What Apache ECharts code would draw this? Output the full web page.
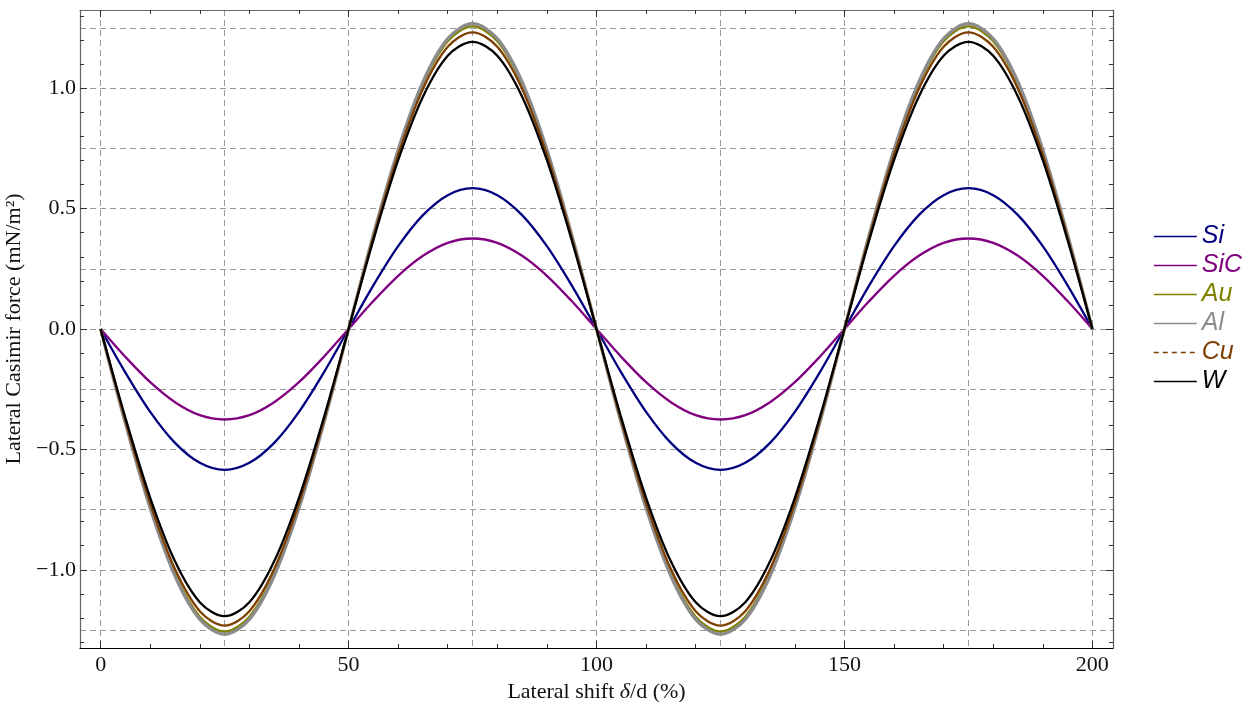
<!DOCTYPE html>
<html>
<head>
<meta charset="utf-8">
<script src="https://cdn.jsdelivr.net/npm/echarts@6/dist/echarts.min.js"></script>
<style>html,body{margin:0;padding:0;background:#fff}#c{width:1244px;height:702px}</style>
</head>
<body>
<div id="c"></div>
<script>
// x positions: lateral shift δ/d (%)
const shift = [0,5,10,15,20,25,30,35,40,45,50,55,60,65,70,75,80,85,90,95,100,
  105,110,115,120,125,130,135,140,145,150,155,160,165,170,175,180,185,190,195,200];
const si  = [0,-0.181,-0.344,-0.473,-0.556,-0.585,-0.556,-0.473,-0.344,-0.181,0,0.181,0.344,0.473,0.556,0.585,0.556,0.473,0.344,0.181,0,
  -0.181,-0.344,-0.473,-0.556,-0.585,-0.556,-0.473,-0.344,-0.181,0,0.181,0.344,0.473,0.556,0.585,0.556,0.473,0.344,0.181,0];
const sic = [0,-0.116,-0.221,-0.304,-0.358,-0.376,-0.358,-0.304,-0.221,-0.116,0,0.116,0.221,0.304,0.358,0.376,0.358,0.304,0.221,0.116,0,
  -0.116,-0.221,-0.304,-0.358,-0.376,-0.358,-0.304,-0.221,-0.116,0,0.116,0.221,0.304,0.358,0.376,0.358,0.304,0.221,0.116,0];
const au  = [0,-0.388,-0.739,-1.017,-1.195,-1.257,-1.195,-1.017,-0.739,-0.388,0,0.388,0.739,1.017,1.195,1.257,1.195,1.017,0.739,0.388,0,
  -0.388,-0.739,-1.017,-1.195,-1.257,-1.195,-1.017,-0.739,-0.388,0,0.388,0.739,1.017,1.195,1.257,1.195,1.017,0.739,0.388,0];
const al  = [0,-0.392,-0.745,-1.026,-1.206,-1.268,-1.206,-1.026,-0.745,-0.392,0,0.392,0.745,1.026,1.206,1.268,1.206,1.026,0.745,0.392,0,
  -0.392,-0.745,-1.026,-1.206,-1.268,-1.206,-1.026,-0.745,-0.392,0,0.392,0.745,1.026,1.206,1.268,1.206,1.026,0.745,0.392,0];
const cu  = [0,-0.381,-0.724,-0.997,-1.172,-1.232,-1.172,-0.997,-0.724,-0.381,0,0.381,0.724,0.997,1.172,1.232,1.172,0.997,0.724,0.381,0,
  -0.381,-0.724,-0.997,-1.172,-1.232,-1.172,-0.997,-0.724,-0.381,0,0.381,0.724,0.997,1.172,1.232,1.172,0.997,0.724,0.381,0];
const w   = [0,-0.369,-0.701,-0.965,-1.135,-1.193,-1.135,-0.965,-0.701,-0.369,0,0.369,0.701,0.965,1.135,1.193,1.135,0.965,0.701,0.369,0,
  -0.369,-0.701,-0.965,-1.135,-1.193,-1.135,-0.965,-0.701,-0.369,0,0.369,0.701,0.965,1.135,1.193,1.135,0.965,0.701,0.369,0];

const seriesNames = ['Si','SiC','Au','Al','Cu','W'];
const xLabelTicks = [0,50,100,150,200];
const xMinorTicks = [10,20,30,40,60,70,80,90,110,120,130,140,160,170,180,190];
const xGridTicks = [0,25,50,75,100,125,150,175,200];
const yLabelTicks = [-1,-0.5,0,0.5,1];
const yMinorTicks = [-1.3,-1.2,-1.1,-0.9,-0.8,-0.7,-0.6,-0.4,-0.3,-0.2,-0.1,0.1,0.2,0.3,0.4,0.6,0.7,0.8,0.9,1.1,1.2,1.3];
const yGridTicks = [-1.25,-1,-0.75,-0.5,-0.25,0,0.25,0.5,0.75,1,1.25];

const X_MIN = -4.16, X_MAX = 204.16, Y_MIN = -1.325, Y_MAX = 1.325;
const colors = {Si:'#00007f', SiC:'#800080', Au:'#808000', Al:'#8c8c8c', Cu:'#7f3f00', W:'#000000'};
const dataSets = {Si:si, SiC:sic, Au:au, Al:al, Cu:cu, W:w};

const serif = 'Liberation Serif';
const gridDash = {show:true, lineStyle:{color:'#999', width:1, type:[6,4]}};

function tickAxis(pos, min, max, ticks, len, lineShow, lineColor, extra) {
  return Object.assign({
    type:'value', position:pos, min:min, max:max,
    axisLine:{show:lineShow, onZero:false, lineStyle:{color:lineColor, width:1.2}},
    axisTick:{show:true, inside:true, length:len, customValues:ticks, lineStyle:{color:'#333', width:1}},
    axisLabel:{show:false},
    splitLine:{show:false}
  }, extra || {});
}

const fmtY = v => (v < 0 ? '\u2212' : '') + Math.abs(v).toFixed(1);

const option = {
  animation:false,
  grid:{left:80, right:131, top:10, bottom:54, containLabel:false, outerBoundsMode:'none'},
  legend:{
    orient:'vertical', left:1148, top:219, itemWidth:43, itemHeight:14, itemGap:4,
    textStyle:{fontFamily:'Liberation Sans', fontStyle:'italic', fontSize:25},
    itemStyle:{opacity:0},
    data: seriesNames.map(n => ({
      name:n, textStyle:{color:colors[n]},
      itemStyle:{opacity:0},
      lineStyle: n === 'Cu' ? {type:[5,4], width:1.6} : {width:1.6}
    }))
  },
  xAxis:[
    tickAxis('bottom', X_MIN, X_MAX, xLabelTicks, 7, true, '#000', {
      axisLabel:{show:true, customValues:xLabelTicks, fontFamily:serif, fontSize:22, color:'#111', margin:6},
      name:'{n|Lateral shift }{i|\u03b4}{n|/d (%)}', nameLocation:'middle', nameGap:20,
      nameTextStyle:{fontFamily:serif, fontSize:22, color:'#111',
        rich:{n:{fontFamily:serif, fontSize:22, color:'#111'}, i:{fontFamily:serif, fontSize:22, fontStyle:'italic', color:'#111'}}}
    }),
    tickAxis('bottom', X_MIN, X_MAX, xMinorTicks, 4, false, '#000'),
    {type:'value', position:'bottom', min:X_MIN, max:X_MAX,
      axisLine:{show:false, onZero:false}, axisTick:{show:false, customValues:xGridTicks},
      axisLabel:{show:false}, splitLine:gridDash},
    tickAxis('top', X_MIN, X_MAX, xLabelTicks, 7, true, '#666'),
    tickAxis('top', X_MIN, X_MAX, xMinorTicks, 4, false, '#666')
  ],
  yAxis:[
    tickAxis('left', Y_MIN, Y_MAX, yLabelTicks, 7, true, '#666', {
      axisLabel:{show:true, customValues:yLabelTicks, formatter:fmtY, fontFamily:serif, fontSize:22, color:'#111', margin:4},
      name:'Lateral Casimir force (mN/m\u00b2)', nameLocation:'middle', nameGap:55,
      nameTextStyle:{fontFamily:serif, fontSize:22, color:'#111'}
    }),
    tickAxis('left', Y_MIN, Y_MAX, yMinorTicks, 4, false, '#666'),
    {type:'value', position:'left', min:Y_MIN, max:Y_MAX,
      axisLine:{show:false, onZero:false}, axisTick:{show:false, customValues:yGridTicks},
      axisLabel:{show:false}, splitLine:gridDash},
    tickAxis('right', Y_MIN, Y_MAX, yLabelTicks, 7, true, '#555'),
    tickAxis('right', Y_MIN, Y_MAX, yMinorTicks, 4, false, '#555')
  ],
  series: seriesNames.map((n, i) => ({
    name:n, type:'line', xAxisIndex:0, yAxisIndex:0,
    data: shift.map((x, k) => [x, dataSets[n][k]]),
    smooth:0.33, showSymbol:false, symbol:'none', silent:true,
    z: 3,
    lineStyle:{color:colors[n], width: n === 'Al' ? 3.2 : 2.3},
    itemStyle:{color:colors[n]}
  }))
};

const chart = echarts.init(document.getElementById('c'), null, {renderer:'canvas'});
chart.setOption(option);
</script>
</body>
</html>
